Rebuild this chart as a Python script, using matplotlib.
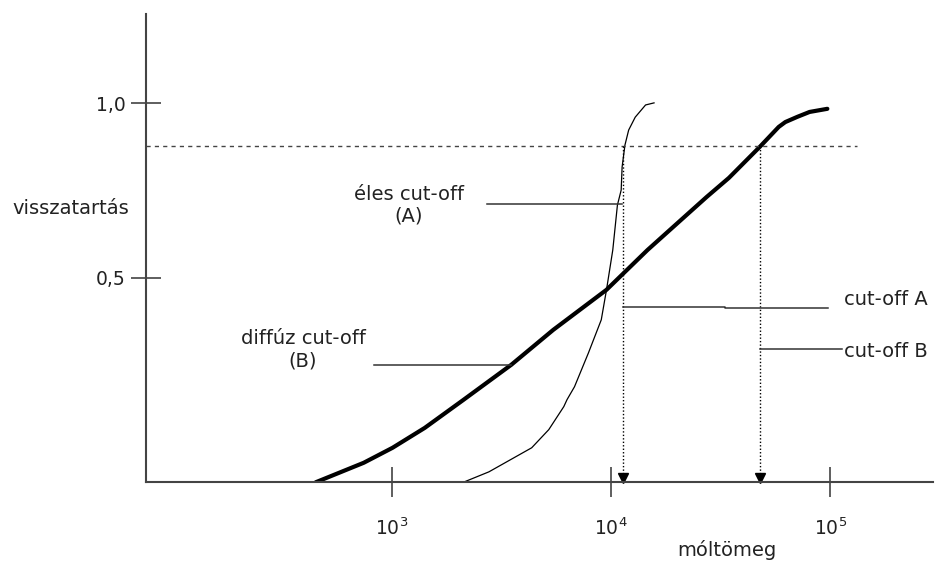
import numpy as np
import matplotlib.pyplot as plt
from matplotlib.ticker import NullLocator

plt.rcParams['font.family'] = ['DejaVu Sans']
plt.rcParams['mathtext.default'] = 'regular'

# values (x = molar mass, y = retention)
base = -0.087

diffuse_x = [451, 747, 1011, 1417, 2123, 3515, 5458, 9550, 14680, 27300,
             34530, 47750, 58200, 62400, 70800, 80500, 97000]
diffuse_y = [base, -0.031, 0.012, 0.069, 0.149, 0.250, 0.350, 0.465, 0.579,
             0.731, 0.786, 0.875, 0.932, 0.946, 0.961, 0.975, 0.984]

sharp_x = [1585, 2123, 2780, 4355, 5210, 6100, 6310, 6825, 7900, 9040, 9550,
           10200, 10710, 11140, 11250, 11590, 12050, 12910, 14390, 15730]
sharp_y = [base, base, -0.057, 0.012, 0.064, 0.130, 0.150, 0.187, 0.284,
           0.379, 0.465, 0.579, 0.708, 0.751, 0.817, 0.880, 0.923, 0.960,
           0.995, 1.001]

level = 0.878          # dotted horizontal level
level_end = 131800
cutoff_a = 11370
cutoff_b = 47750

xticks = [1e3, 1e4, 1e5]
xtick_labels = ['$10^{3}$', '$10^{4}$', '$10^{5}$']
yticks = [0.5, 1.0]
ytick_labels = ['0,5', '1,0']

fig = plt.figure(figsize=(9.35, 5.68), dpi=100)
ax = fig.add_axes([146 / 935, 1 - 482.3 / 568, 787 / 935, 468 / 568])

ax.plot(diffuse_x, diffuse_y, color='black', lw=3, solid_capstyle='round',
        solid_joinstyle='round')
ax.plot(sharp_x, sharp_y, color='black', lw=0.9, solid_joinstyle='round')
ax.plot(sharp_x[:2], sharp_y[:2], color='black', lw=2)

ax.plot([76, level_end], [level, level], color='#444444', lw=1,
        linestyle=(0, (3, 3)))

for xc in [cutoff_a, cutoff_b]:
    ax.plot([xc, xc], [level, base + 0.02], color='black', lw=1,
            linestyle=(0, (1, 1.5)))
    ax.plot([xc], [base + 0.013], marker='v', color='black', markersize=7,
            clip_on=False)

# leader lines for the labels
ax.plot([2716, 11250], [0.711, 0.711], color='#333333', lw=1.1)
ax.plot([836, 3515], [0.250, 0.250], color='#333333', lw=1.1)
ax.plot([cutoff_a, 33190, 33190, 97900], [0.416, 0.416, 0.413, 0.413],
        color='#333333', lw=1.1)
ax.plot([cutoff_b, 113400], [0.296, 0.296], color='#333333', lw=1.1)

fs = 14
ax.text(1197, 0.708, 'éles cut-off\n(A)', ha='center', va='center',
        multialignment='center', fontsize=fs, color='#222222')
ax.text(395, 0.293, 'diffúz cut-off\n(B)', ha='center', va='center',
        multialignment='center', fontsize=fs, color='#222222')
ax.text(115900, 0.436, 'cut-off A', ha='left', va='center', fontsize=fs,
        color='#222222')
ax.text(115900, 0.287, 'cut-off B', ha='left', va='center', fontsize=fs,
        color='#222222')

ax.set_xscale('log')
ax.set_xlim(76, 294000)
ax.set_ylim(base, 1.255)
ax.set_xticks(xticks, xtick_labels)
ax.xaxis.set_minor_locator(NullLocator())
ax.set_yticks(yticks, ytick_labels)

for s in ['top', 'right']:
    ax.spines[s].set_visible(False)
for s in ['left', 'bottom']:
    ax.spines[s].set_color('#444444')
    ax.spines[s].set_linewidth(1.5)

ax.tick_params(axis='x', direction='inout', length=22, width=1.1,
               color='#333333', pad=14, labelsize=13.5, labelcolor='#222222')
ax.tick_params(axis='y', direction='inout', length=21, width=1.1,
               color='#333333', pad=4, labelsize=13.5, labelcolor='#222222')

ax.set_ylabel('visszatartás', rotation=0, ha='left', va='center',
              fontsize=fs, color='#222222')
ax.yaxis.set_label_coords(-0.170, 0.586)
ax.set_xlabel('móltömeg', ha='center', va='center', fontsize=fs,
              color='#222222')
ax.xaxis.set_label_coords(0.738, -0.1447)

fig.savefig('out.png', dpi=100)
